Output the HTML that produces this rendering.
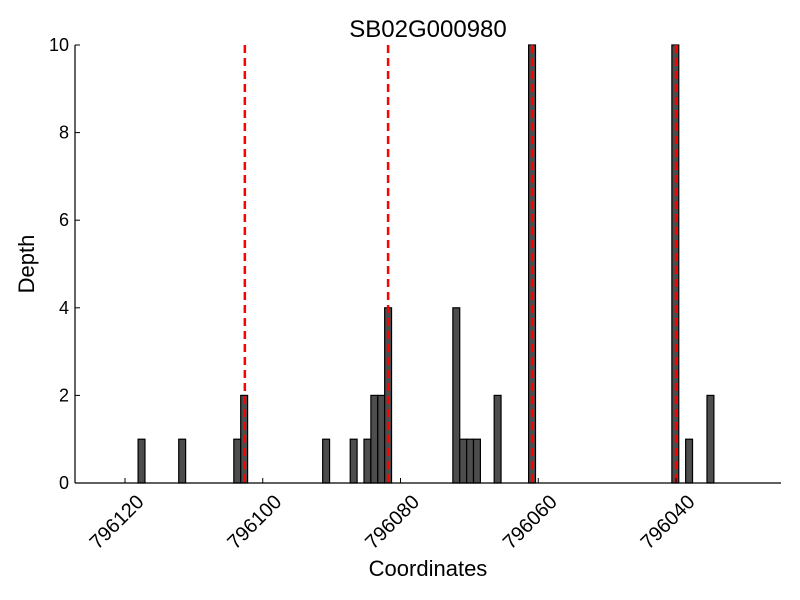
<!DOCTYPE html>
<html><head><meta charset="utf-8"><style>
body{margin:0;background:#fff}
svg{display:block;font-family:"Liberation Sans","DejaVu Sans",sans-serif}
</style></head><body>
<svg id="chart" width="800" height="600" viewBox="0 0 800 600">
<rect width="800" height="600" fill="#fff"/>
<text x="428" y="37" font-size="24" text-anchor="middle">SB02G000980</text>
<g id="bars"></g>
<g id="vlines"></g>
<g id="axes"></g>
<text x="428" y="576" font-size="22" text-anchor="middle">Coordinates</text>
<text transform="translate(34,264) rotate(-90)" font-size="22" text-anchor="middle">Depth</text>
</svg>
<script>
const barStarts=[796118.1,796112.2,796104.2,796103.2,796091.3,796087.3,796085.3,796084.3,796083.3,796082.3,796072.4,796071.4,796070.4,796069.4,796066.4,796061.4,796040.6,796038.6,796035.5];
const barDepths=[1,1,1,2,1,1,1,2,2,4,4,1,1,1,2,10,10,1,2];
const markerCoords=[796102.6,796081.8,796060.9,796040.0];
const xTicks=[796120,796100,796080,796060,796040];
const yTicks=[0,2,4,6,8,10];

const NS="http://www.w3.org/2000/svg";
const X0=75,X1=781,Y0=483,Y1=45;
const pxPerUnit=(676-125)/80;
function xs(v){return 125+(796120-v)*pxPerUnit;}
function ys(v){return Y0-(v/10)*(Y0-Y1);}
function mk(tag,attrs,parent){const e=document.createElementNS(NS,tag);for(const k in attrs)e.setAttribute(k,attrs[k]);parent.appendChild(e);return e;}
const bars=document.getElementById('bars'),vl=document.getElementById('vlines'),ax=document.getElementById('axes');
barStarts.forEach((s,i)=>{
  const x=xs(s),y=ys(barDepths[i]);
  const r=mk('rect',{x:x,y:y,width:pxPerUnit,height:Y0-y,fill:'#4d4d4d',stroke:'#000','stroke-width':1.2},bars);
  
  
});
markerCoords.forEach(c=>{
  const l=mk('line',{x1:xs(c),x2:xs(c),y1:Y1,y2:Y0,stroke:'#ff0000','stroke-width':2.5,'stroke-dasharray':'8,5'},vl);
  
  
});
mk('line',{x1:X0,x2:X0,y1:Y1,y2:Y0,stroke:'#000','stroke-width':1.2},ax);
mk('line',{x1:X0,x2:X1,y1:Y0,y2:Y0,stroke:'#000','stroke-width':1.2},ax);
xTicks.forEach(t=>{
  const x=xs(t);
  mk('line',{x1:x,x2:x,y1:Y0,y2:Y0-5,stroke:'#000'},ax);
  const tx=mk('text',{x:0,y:0,'font-size':20,'text-anchor':'end',transform:`translate(${x+20},${Y0+20}) rotate(-45)`},ax);
  tx.textContent=t;
  
  
});
yTicks.forEach(t=>{
  const y=ys(t);
  mk('line',{x1:X0,x2:X0+5,y1:y,y2:y,stroke:'#000'},ax);
  const tx=mk('text',{x:X0-6,y:y+6,'font-size':18,'text-anchor':'end'},ax);
  tx.textContent=t;
  
  
});
</script>
</body></html>
